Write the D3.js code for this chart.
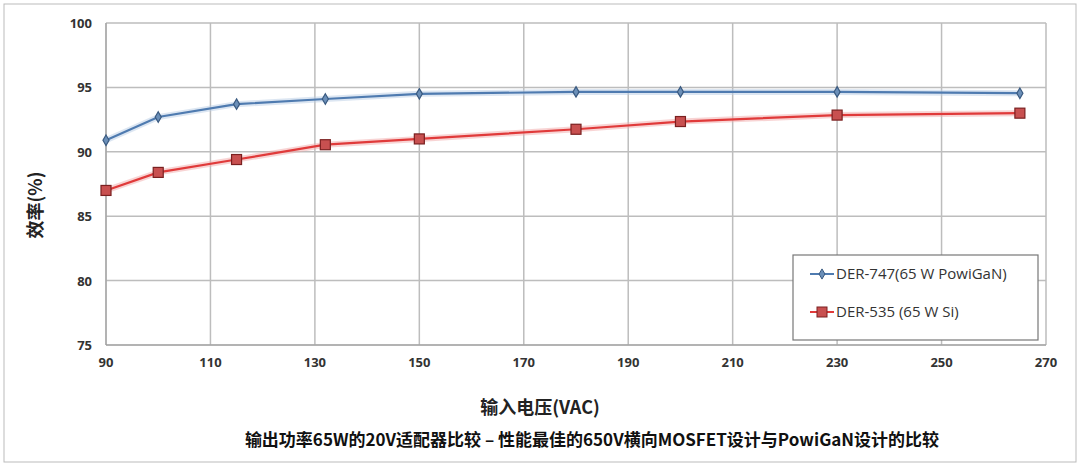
<!DOCTYPE html><html><head><meta charset="utf-8"><script src="https://cdn.jsdelivr.net/npm/d3@7"></script>
<style>body{margin:0;background:#fff}</style></head><body><svg id="c" width="1080" height="466"></svg>
<script>
const voltages=[90,100,115,132,150,180,200,230,265];
const ganEff=[90.9,92.7,93.7,94.1,94.5,94.65,94.65,94.65,94.55];
const siEff=[87.0,88.4,89.4,90.55,91.0,91.75,92.35,92.85,93.0];
const xTicks=d3.range(90,271,20);
const yTicks=[75,80,85,90,95,100];
const seriesNames=["DER-747(65 W PowiGaN)","DER-535 (65 W Si)"];
const svg=d3.select("#c");
const x=d3.scaleLinear().domain([90,270]).range([106,1046]);
const y=d3.scaleLinear().domain([75,100]).range([345,23]);
const f="'Open Sans','Noto Sans',sans-serif";
svg.append("rect").attr("x",4).attr("y",4).attr("width",1072).attr("height",458).attr("fill","none").attr("stroke","#bbb");
const g=svg.append("g");
g.selectAll(".vx").data(xTicks).join("line").attr("x1",d=>x(d)).attr("x2",d=>x(d)).attr("y1",y(100)).attr("y2",y(75)).attr("stroke","#bdbdbd").attr("stroke-width",1.5);
g.selectAll(".hy").data(yTicks).join("line").attr("x1",x(90)).attr("x2",x(270)).attr("y1",d=>y(d)).attr("y2",d=>y(d)).attr("stroke","#bdbdbd").attr("stroke-width",1.5);
g.append("line").attr("x1",x(90)).attr("x2",x(90)).attr("y1",y(100)).attr("y2",y(75)).attr("stroke","#999");
g.append("line").attr("x1",x(90)).attr("x2",x(270)).attr("y1",y(75)).attr("y2",y(75)).attr("stroke","#999");
g.selectAll(".xt").data(xTicks).join("text").attr("x",d=>x(d)).attr("y",y(75)+22).attr("text-anchor","middle").attr("font-family",f).attr("font-weight","bold").attr("font-size",13).attr("fill","#333").text(d=>d);
g.selectAll(".yt").data(yTicks).join("text").attr("x",x(90)-14).attr("y",d=>y(d)+5).attr("text-anchor","end").attr("font-family",f).attr("font-weight","bold").attr("font-size",13).attr("fill","#333").text(d=>d);
const line=d3.line().x((d,i)=>x(voltages[i])).y(d=>y(d));
function drawSeries(vals,col,shadow,shape){
  g.append("path").datum(vals).attr("d",line).attr("fill","none").attr("stroke",shadow).attr("stroke-width",6).attr("opacity",0.5);
  g.append("path").datum(vals).attr("d",line).attr("fill","none").attr("stroke",col).attr("stroke-width",2.2);
  vals.forEach((v,i)=>{
    if(shape==="d") g.append("path").attr("d",d3.symbol(d3.symbolDiamond,32)()).attr("transform",`translate(${x(voltages[i])},${y(v)})`).attr("fill","#6b8fb8").attr("stroke","#3a5a80").attr("stroke-width",1.2);
    else g.append("rect").attr("x",x(voltages[i])-5).attr("y",y(v)-5).attr("width",10).attr("height",10).attr("fill","#c85050").attr("stroke","#7a2020").attr("stroke-width",1.2);
  });
}
drawSeries(ganEff,"#4f7bb0","#b9cde6","d");
drawSeries(siEff,"#e03a3a","#f2aaaa","s");
const lg=svg.append("g");
lg.append("rect").attr("x",793).attr("y",255).attr("width",245).attr("height",85).attr("fill","#fff").attr("stroke","#777").attr("stroke-width",1.2);
[["#4f7bb0","d"],["#e03a3a","s"]].forEach((s,i)=>{
  const yy=274+i*38;
  lg.append("line").attr("x1",810).attr("x2",834).attr("y1",yy).attr("y2",yy).attr("stroke",s[0]).attr("stroke-width",2);
  if(s[1]==="d") lg.append("path").attr("d",d3.symbol(d3.symbolDiamond,30)()).attr("transform",`translate(822,${yy})`).attr("fill","#6b8fb8").attr("stroke","#3a5a80");
  else lg.append("rect").attr("x",817).attr("y",yy-5).attr("width",10).attr("height",10).attr("fill","#c85050").attr("stroke","#7a2020");
  lg.append("text").attr("x",836).attr("y",yy+5).attr("font-family",f).attr("font-size",15).attr("fill","#333").text(seriesNames[i]);
});
svg.append("text").attr("transform","translate(42,205) rotate(-90)").attr("text-anchor","middle").attr("font-family","'Noto Sans CJK SC'").attr("font-weight","bold").attr("font-size",18).attr("fill","#222").text("效率(%)");
svg.append("text").attr("x",540).attr("y",414).attr("text-anchor","middle").attr("font-family","'Noto Sans CJK SC'").attr("font-weight","bold").attr("font-size",18).attr("fill","#222").text("输入电压(VAC)");
svg.append("text").attr("x",592).attr("y",446).attr("text-anchor","middle").attr("font-family","'Noto Sans CJK SC'").attr("font-weight","bold").attr("font-size",17).attr("fill","#111").text("输出功率65W的20V适配器比较 – 性能最佳的650V横向MOSFET设计与PowiGaN设计的比较");
</script></body></html>
